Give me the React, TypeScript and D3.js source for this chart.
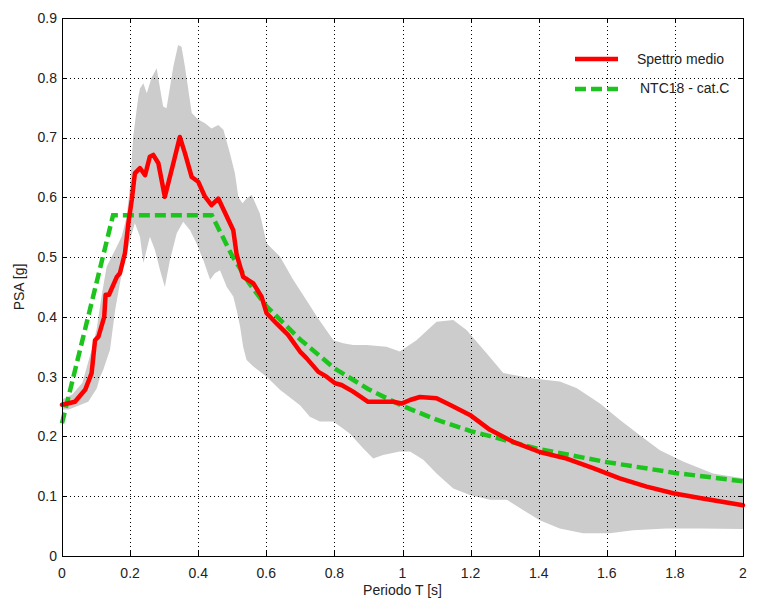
import React, { useRef, useEffect } from "react";
import * as d3 from "d3";

// mean spectrum (Spettro medio)
const meanT = [0, 0.038, 0.068, 0.087, 0.097, 0.107, 0.124, 0.128, 0.138, 0.161, 0.17, 0.185, 0.195, 0.205, 0.214, 0.229, 0.244, 0.258, 0.268, 0.283, 0.302, 0.327, 0.346, 0.361, 0.381, 0.4, 0.42, 0.439, 0.459, 0.484, 0.503, 0.513, 0.532, 0.562, 0.586, 0.601, 0.63, 0.664, 0.699, 0.718, 0.753, 0.777, 0.802, 0.821, 0.855, 0.899, 0.934, 0.973, 0.997, 1.022, 1.051, 1.1, 1.139, 1.198, 1.257, 1.325, 1.403, 1.482, 1.56, 1.638, 1.717, 1.795, 1.873, 2.0];
const meanPSA = [0.253, 0.258, 0.278, 0.306, 0.361, 0.367, 0.4, 0.437, 0.437, 0.467, 0.473, 0.507, 0.557, 0.596, 0.64, 0.649, 0.637, 0.668, 0.671, 0.657, 0.601, 0.657, 0.701, 0.674, 0.634, 0.626, 0.601, 0.587, 0.598, 0.568, 0.545, 0.504, 0.467, 0.456, 0.434, 0.406, 0.389, 0.37, 0.342, 0.331, 0.308, 0.3, 0.289, 0.286, 0.275, 0.258, 0.258, 0.258, 0.255, 0.261, 0.266, 0.264, 0.253, 0.236, 0.211, 0.191, 0.174, 0.163, 0.147, 0.13, 0.116, 0.105, 0.097, 0.085];

// NTC18 - cat.C design spectrum
const ntcT = [0, 0.15, 0.44, 0.5, 0.55, 0.6, 0.7, 0.8, 0.9, 1.0, 1.1, 1.2, 1.4, 1.6, 1.8, 2.0];
const ntcPSA = [0.222, 0.57, 0.57, 0.502, 0.456, 0.418, 0.362, 0.314, 0.279, 0.251, 0.228, 0.209, 0.179, 0.157, 0.139, 0.125];

// grey band, upper edge
const upperT = [0, 0.03, 0.06, 0.087, 0.102, 0.116, 0.131, 0.156, 0.175, 0.19, 0.2, 0.209, 0.224, 0.229, 0.239, 0.249, 0.263, 0.278, 0.297, 0.307, 0.327, 0.341, 0.351, 0.361, 0.381, 0.4, 0.42, 0.439, 0.459, 0.474, 0.493, 0.508, 0.518, 0.53, 0.542, 0.557, 0.581, 0.601, 0.64, 0.679, 0.718, 0.748, 0.797, 0.826, 0.855, 0.895, 0.953, 0.992, 1.041, 1.1, 1.149, 1.188, 1.247, 1.296, 1.384, 1.462, 1.511, 1.58, 1.638, 1.697, 1.756, 1.824, 1.912, 2.0];
const upperPSA = [0.262, 0.27, 0.29, 0.345, 0.38, 0.434, 0.484, 0.512, 0.534, 0.568, 0.62, 0.701, 0.768, 0.782, 0.791, 0.774, 0.8, 0.816, 0.752, 0.749, 0.819, 0.855, 0.852, 0.819, 0.741, 0.73, 0.724, 0.715, 0.721, 0.713, 0.674, 0.64, 0.6, 0.59, 0.598, 0.604, 0.573, 0.523, 0.501, 0.462, 0.428, 0.401, 0.361, 0.356, 0.353, 0.353, 0.35, 0.342, 0.361, 0.392, 0.395, 0.378, 0.339, 0.306, 0.297, 0.292, 0.281, 0.255, 0.228, 0.202, 0.177, 0.158, 0.138, 0.13];

// grey band, lower edge
const lowerT = [0, 0.02, 0.077, 0.102, 0.112, 0.121, 0.141, 0.156, 0.17, 0.185, 0.2, 0.214, 0.229, 0.239, 0.258, 0.273, 0.288, 0.302, 0.317, 0.337, 0.356, 0.376, 0.395, 0.415, 0.435, 0.449, 0.464, 0.484, 0.503, 0.513, 0.523, 0.532, 0.542, 0.562, 0.601, 0.64, 0.699, 0.728, 0.757, 0.797, 0.845, 0.885, 0.914, 0.943, 0.992, 1.022, 1.061, 1.1, 1.149, 1.198, 1.257, 1.306, 1.354, 1.403, 1.462, 1.53, 1.609, 1.677, 1.775, 1.873, 2.0];
const lowerPSA = [0.245, 0.245, 0.258, 0.28, 0.3, 0.311, 0.345, 0.411, 0.456, 0.495, 0.529, 0.557, 0.534, 0.49, 0.534, 0.512, 0.478, 0.45, 0.495, 0.54, 0.559, 0.545, 0.523, 0.495, 0.462, 0.473, 0.478, 0.45, 0.434, 0.411, 0.384, 0.35, 0.328, 0.317, 0.3, 0.278, 0.252, 0.233, 0.225, 0.225, 0.205, 0.18, 0.163, 0.169, 0.175, 0.175, 0.161, 0.138, 0.113, 0.102, 0.094, 0.094, 0.077, 0.06, 0.046, 0.038, 0.038, 0.043, 0.046, 0.046, 0.045];

const xTicks = [0, 0.2, 0.4, 0.6, 0.8, 1, 1.2, 1.4, 1.6, 1.8, 2];
const yTicks = [0, 0.1, 0.2, 0.3, 0.4, 0.5, 0.6, 0.7, 0.8, 0.9];
const legendLabels = ["Spettro medio", "NTC18 - cat.C"];

const W = 763;
const H = 604;
const FONT = "'Liberation Sans', Arial, Helvetica, sans-serif";

const App = () => {
  const svgRef = useRef<SVGSVGElement>(null);

  useEffect(() => {
    const svg = d3.select(svgRef.current);
    svg.selectAll("*").remove();

    const left = 62, top = 18, right = 743, bottom = 556;
    const x = d3.scaleLinear().domain([0, 2]).range([left, right]);
    const y = d3.scaleLinear().domain([0, 0.9]).range([bottom, top]);

    svg.append("rect").attr("width", W).attr("height", H).attr("fill", "#fff");

    // ---- grey band ----
    const upper = upperT.map((t, i) => [x(t), y(upperPSA[i])] as [number, number]);
    const lower = lowerT.map((t, i) => [x(t), y(lowerPSA[i])] as [number, number]);
    const band = upper.concat(lower.reverse());
    svg.append("path")
      .attr("d", "M" + band.map(p => p.join(",")).join("L") + "Z")
      .attr("fill", "#cccccc");

    // ---- grid ----
    const grid = svg.append("g").attr("stroke", "#000").attr("stroke-width", 1).attr("stroke-dasharray", "1,3");
    xTicks.slice(1, -1).forEach(t => {
      grid.append("line").attr("x1", Math.round(x(t)) + 0.5).attr("x2", Math.round(x(t)) + 0.5).attr("y1", top).attr("y2", bottom);
    });
    yTicks.slice(1, -1).forEach(t => {
      grid.append("line").attr("y1", Math.round(y(t)) + 0.5).attr("y2", Math.round(y(t)) + 0.5).attr("x1", left).attr("x2", right);
    });

    // ---- lines ----
    const line = d3.line<[number, number]>().x(d => x(d[0])).y(d => y(d[1]));

    svg.append("path")
      .attr("d", line(ntcT.map((t, i) => [t, ntcPSA[i]])))
      .attr("fill", "none")
      .attr("stroke", "#1dc41d")
      .attr("stroke-width", 4.5)
      .attr("stroke-dasharray", "11,5");

    svg.append("path")
      .attr("d", line(meanT.map((t, i) => [t, meanPSA[i]])))
      .attr("fill", "none")
      .attr("stroke", "#ff0000")
      .attr("stroke-width", 4.5)
      .attr("stroke-linejoin", "round")
      .attr("stroke-linecap", "round");

    // ---- box + ticks ----
    svg.append("rect")
      .attr("x", left + 0.5).attr("y", top + 0.5)
      .attr("width", right - left).attr("height", bottom - top)
      .attr("fill", "none").attr("stroke", "#000").attr("stroke-width", 1);

    const ticks = svg.append("g").attr("stroke", "#000").attr("stroke-width", 1);
    xTicks.forEach(t => {
      const px = Math.round(x(t)) + 0.5;
      ticks.append("line").attr("x1", px).attr("x2", px).attr("y1", bottom).attr("y2", bottom - 5);
      ticks.append("line").attr("x1", px).attr("x2", px).attr("y1", top).attr("y2", top + 5);
    });
    yTicks.forEach(t => {
      const py = Math.round(y(t)) + 0.5;
      ticks.append("line").attr("y1", py).attr("y2", py).attr("x1", left).attr("x2", left + 5);
      ticks.append("line").attr("y1", py).attr("y2", py).attr("x1", right).attr("x2", right - 5);
    });

    // ---- tick labels ----
    xTicks.forEach(t => {
      svg.append("text")
        .attr("x", x(t)).attr("y", bottom + 22)
        .attr("text-anchor", "middle")
        .style("font-family", FONT).style("font-size", "14px").attr("fill", "#222")
        .text(String(t));
    });
    yTicks.forEach(t => {
      svg.append("text")
        .attr("x", left - 5).attr("y", y(t)).attr("dy", "0.35em")
        .attr("text-anchor", "end")
        .style("font-family", FONT).style("font-size", "14px").attr("fill", "#222")
        .text(String(t));
    });

    svg.append("text")
      .attr("x", (left + right) / 2).attr("y", 595)
      .attr("text-anchor", "middle")
      .style("font-family", FONT).style("font-size", "14px").attr("fill", "#222")
      .text("Periodo T [s]");

    svg.append("text")
      .attr("transform", `translate(24,${(top + bottom) / 2}) rotate(-90)`)
      .attr("text-anchor", "middle")
      .style("font-family", FONT).style("font-size", "14px").attr("fill", "#222")
      .text("PSA [g]");

    // ---- legend ----
    const leg = svg.append("g");
    leg.append("line").attr("x1", 575).attr("x2", 618).attr("y1", 59).attr("y2", 59)
      .attr("stroke", "#ff0000").attr("stroke-width", 4.5);
    leg.append("text").attr("x", 637).attr("y", 59).attr("dy", "0.35em")
      .style("font-family", FONT).style("font-size", "14px").attr("fill", "#222")
      .text(legendLabels[0]);
    leg.append("line").attr("x1", 575).attr("x2", 619).attr("y1", 89).attr("y2", 89)
      .attr("stroke", "#1dc41d").attr("stroke-width", 4.5).attr("stroke-dasharray", "11,5");
    leg.append("text").attr("x", 640).attr("y", 88).attr("dy", "0.35em")
      .style("font-family", FONT).style("font-size", "14px").attr("fill", "#222")
      .text(legendLabels[1]);
  }, []);

  return (
    <svg
      ref={svgRef}
      width={W}
      height={H}
      style={{ position: "absolute", left: 0, top: 0, display: "block" }}
    />
  );
};

export default App;
